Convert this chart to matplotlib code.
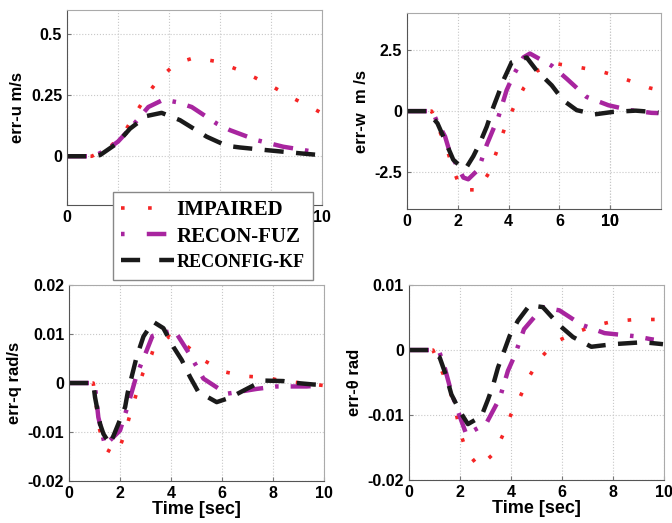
import matplotlib
matplotlib.use("Agg")
import matplotlib.pyplot as plt
from matplotlib.lines import Line2D

plt.rcParams['font.family'] = ['Liberation Sans', 'DejaVu Sans']

# ---- data ----
# err-u
u_imp_t = [0, 0.97, 1.69, 2.27, 2.71, 3.14, 3.67, 4.31, 4.99, 5.84, 6.63, 7.38, 8.12, 8.84, 9.58, 9.95]
u_imp_v = [0, 0, 0.038, 0.102, 0.179, 0.253, 0.325, 0.382, 0.404, 0.389, 0.358, 0.322, 0.282, 0.239, 0.200, 0.179]
u_fuz_t = [0, 1.0, 1.16, 1.6, 2.0, 2.47, 3.19, 3.78, 4.3, 4.89, 5.87, 6.39, 7.44, 8.48, 9.14, 9.9]
u_fuz_v = [0, 0, 0.005, 0.03, 0.06, 0.113, 0.202, 0.232, 0.222, 0.202, 0.134, 0.107, 0.066, 0.039, 0.028, 0.014]
u_kf_t = [0, 1.0, 1.3, 1.95, 2.47, 3.12, 3.71, 4.43, 5.48, 6.26, 6.78, 7.83, 9.14, 9.9]
u_kf_v = [0, 0, 0.005, 0.052, 0.113, 0.165, 0.178, 0.148, 0.080, 0.043, 0.036, 0.025, 0.012, 0.005]

# err-w
w_imp_t = [0, 0.97, 1.59, 1.82, 2.15, 2.81, 3.24, 3.53, 3.62, 3.89, 4.22, 4.6, 5.13, 5.96, 6.76, 7.6, 7.97, 8.74, 9.54, 9.75]
w_imp_v = [0, 0, -1.6, -2.4, -3.21, -3.21, -2.49, -1.64, -1.37, -0.56, 0.2, 0.95, 1.65, 1.92, 1.79, 1.63, 1.52, 1.25, 0.95, 0.9]
w_fuz_t = [0, 1.0, 1.17, 1.5, 1.69, 2.22, 2.41, 2.81, 3.14, 3.6, 3.92, 4.18, 4.58, 4.84, 5.7, 6.29, 7.07, 7.93, 8.78, 9.63, 9.9]
w_fuz_v = [0, 0, -0.4, -1.04, -1.7, -2.71, -2.78, -2.38, -1.37, -0.23, 0.85, 1.45, 2.19, 2.35, 1.85, 1.32, 0.58, 0.24, 0.04, -0.07, -0.08]
w_kf_t = [0, 0.8, 1.2, 1.43, 1.82, 2.15, 2.3, 2.61, 2.87, 3.14, 3.4, 3.6, 3.79, 4.12, 4.71, 5.11, 5.7, 6.15, 6.68, 7.4, 8.12, 9.0, 9.9]
w_kf_v = [0, 0, -0.5, -1.04, -1.98, -2.3, -2.36, -1.84, -1.3, -0.63, 0.17, 0.71, 1.25, 1.99, 2.19, 1.65, 1.05, 0.44, 0.04, -0.13, -0.03, 0.02, -0.05]

# err-q
q_imp_t = [0, 0.95, 1.18, 1.37, 1.87, 2.17, 2.39, 2.63, 2.89, 3.24, 3.31, 3.93, 4.68, 5.33, 6.08, 6.9, 7.79, 8.27, 9.97]
q_imp_v = [0, 0, -0.009, -0.0133, -0.0147, -0.0106, -0.0065, -0.0024, 0.0019, 0.0058, 0.007, 0.0095, 0.0073, 0.0045, 0.0023, 0.0014, 0.0011, 0.0005, -0.0005]
q_fuz_t = [0, 0.95, 1.02, 1.15, 1.41, 2.0, 2.33, 2.65, 3.05, 3.27, 4.13, 4.75, 5.27, 6.18, 7.36, 8.14, 9.32, 9.6]
q_fuz_v = [0, 0, -0.0008, -0.007, -0.0127, -0.0097, -0.0042, 0.0016, 0.0067, 0.0096, 0.0108, 0.0057, 0.0009, -0.0022, -0.0012, -0.0007, -0.0007, -0.0006]
q_kf_t = [0, 0.95, 1.02, 1.22, 1.35, 1.61, 1.93, 2.2, 2.3, 2.65, 2.92, 3.3, 3.7, 4.09, 4.42, 4.75, 5.07, 5.79, 6.31, 6.97, 7.49, 7.62, 8.4, 8.93, 9.58, 10]
q_kf_v = [0, 0, -0.0029, -0.0084, -0.0104, -0.0125, -0.0084, -0.0049, -0.002, 0.0053, 0.0095, 0.0125, 0.0112, 0.0074, 0.0047, 0.0012, -0.0018, -0.0039, -0.003, -0.0012, 0.0002, 0.0005, 0.0004, 0, -0.0003, -0.0004]

# err-theta
th_imp_t = [0, 0.94, 1.59, 1.83, 1.99, 2.25, 2.75, 3.36, 3.69, 3.99, 4.37, 4.71, 5.16, 5.78, 6.54, 7.31, 8.0, 8.88, 9.8]
th_imp_v = [0, 0, -0.006, -0.0093, -0.0124, -0.0156, -0.018, -0.0158, -0.013, -0.010, -0.0071, -0.0041, -0.0012, 0.0013, 0.0027, 0.0038, 0.0044, 0.0047, 0.0047]
th_fuz_t = [0, 1.1, 1.2, 1.4, 1.66, 2.01, 2.25, 3.03, 3.56, 3.88, 4.14, 4.51, 5.25, 5.9, 6.76, 7.67, 8.92, 9.44, 9.6]
th_fuz_v = [0, 0, -0.0004, -0.0027, -0.0065, -0.0104, -0.013, -0.0113, -0.0074, -0.0032, -0.0009, 0.0032, 0.0066, 0.0061, 0.0039, 0.0026, 0.0021, 0.0017, 0.0016]
th_kf_t = [0, 0.8, 1.2, 1.46, 1.66, 1.99, 2.31, 2.84, 3.1, 3.29, 3.49, 3.69, 3.95, 4.27, 4.73, 5.25, 5.9, 6.43, 7.15, 8.0, 9.18, 9.96]
th_kf_v = [0, 0, -0.0011, -0.004, -0.0068, -0.0094, -0.0114, -0.0102, -0.0076, -0.0055, -0.0027, -0.0006, 0.0022, 0.0045, 0.0069, 0.0066, 0.0038, 0.002, 0.0005, 0.0009, 0.0012, 0.0009]

labels = ['IMPAIRED', 'RECON-FUZ', 'RECONFIG-KF']
c_imp = '#f52525'
c_fuz = '#a8259f'
c_kf = '#1a1a1a'


def draw(ax, imp, fuz, kf):
    ax.plot(*imp, color=c_imp, lw=2.6, dashes=(1, 5.5), dash_capstyle='butt')
    ax.plot(*fuz, color=c_fuz, lw=3.2, dashes=(4.5, 2.7, 0.8, 2.7), dash_capstyle='butt')
    ax.plot(*kf, color=c_kf, lw=3.2, dashes=(4.3, 2.8), dash_capstyle='butt')
    ax.set_xlim(0, 10)
    ax.grid(True, color='#c8c8c8', linestyle=':', linewidth=0.8)
    ax.tick_params(direction='in', length=3, labelsize=11.5, color='#777777')
    for s in ['left', 'bottom']:
        ax.spines[s].set_color('#555555')
    for s in ['top', 'right']:
        ax.spines[s].set_color('#aaaaaa')


fig = plt.figure(figsize=(6.72, 5.23), dpi=100)

ax1 = fig.add_axes([0.0997, 0.608, 0.3795, 0.373])
draw(ax1, (u_imp_t, u_imp_v), (u_fuz_t, u_fuz_v), (u_kf_t, u_kf_v))
ax1.set_ylim(-0.2, 0.6)
ax1.set_yticks([0, 0.25, 0.5], ['0', '0.25', '0.5'], fontweight='bold')
ax1.set_xticks([0, 2, 4, 6, 8, 10], ['0', '2', '4', '6', '8', '10'], fontweight='bold')
ax1.set_ylabel('err-u m/s', fontsize=12, fontweight='bold')

ax2 = fig.add_axes([0.6057, 0.600, 0.3779, 0.375])
draw(ax2, (w_imp_t, w_imp_v), (w_fuz_t, w_fuz_v), (w_kf_t, w_kf_v))
ax2.set_ylim(-4, 4)
ax2.set_yticks([-2.5, 0, 2.5], ['-2.5', '0', '2.5'], fontweight='bold')
ax2.set_xticks([0, 2, 4, 6, 8, 8], ['0', '2', '4', '6', '8', '10'], fontweight='bold')
ax2.set_ylabel('err-w  m /s', fontsize=12, fontweight='bold')

ax3 = fig.add_axes([0.1027, 0.0803, 0.3795, 0.3747])
draw(ax3, (q_imp_t, q_imp_v), (q_fuz_t, q_fuz_v), (q_kf_t, q_kf_v))
ax3.set_ylim(-0.02, 0.02)
ax3.set_yticks([-0.02, -0.01, 0, 0.01, 0.02], ['-0.02', '-0.01', '0', '0.01', '0.02'], fontweight='bold')
ax3.set_xticks([0, 2, 4, 6, 8, 10], ['0', '2', '4', '6', '8', '10'], fontweight='bold')
ax3.set_ylabel('err-q rad/s', fontsize=12, fontweight='bold')
ax3.set_xlabel('Time [sec]', fontsize=13, fontweight='bold', labelpad=0)

ax4 = fig.add_axes([0.6086, 0.0822, 0.3795, 0.3728])
draw(ax4, (th_imp_t, th_imp_v), (th_fuz_t, th_fuz_v), (th_kf_t, th_kf_v))
ax4.set_ylim(-0.02, 0.01)
ax4.set_yticks([-0.02, -0.01, 0, 0.01], ['-0.02', '-0.01', '0', '0.01'], fontweight='bold')
ax4.set_xticks([0, 2, 4, 6, 8, 10], ['0', '2', '4', '6', '8', '10'], fontweight='bold')
ax4.set_ylabel('err-θ rad', fontsize=12, fontweight='bold')
ax4.set_xlabel('Time [sec]', fontsize=13, fontweight='bold', labelpad=0)

handles = [
    Line2D([], [], color=c_imp, lw=2.6, dashes=(1, 6.5), dash_capstyle='butt'),
    Line2D([], [], color=c_fuz, lw=3.2, dashes=(0.8, 5.0, 4.4, 2.9), dash_capstyle='butt'),
    Line2D([], [], color=c_kf, lw=3.2, dashes=(4.3, 4.3), dash_capstyle='butt'),
]
leg = fig.legend(handles, labels, loc='upper left', bbox_to_anchor=(0.168, 0.633),
                 prop={'family': 'Liberation Serif', 'weight': 'bold', 'size': 15},
                 handlelength=2.55, handletextpad=0.1, labelspacing=0.3,
                 borderpad=0.4, borderaxespad=0, fancybox=False, framealpha=1,
                 edgecolor='#888888')
leg.get_frame().set_linewidth(1.0)
leg.get_texts()[2].set_fontsize(13)

fig.savefig('out.png', dpi=100)
